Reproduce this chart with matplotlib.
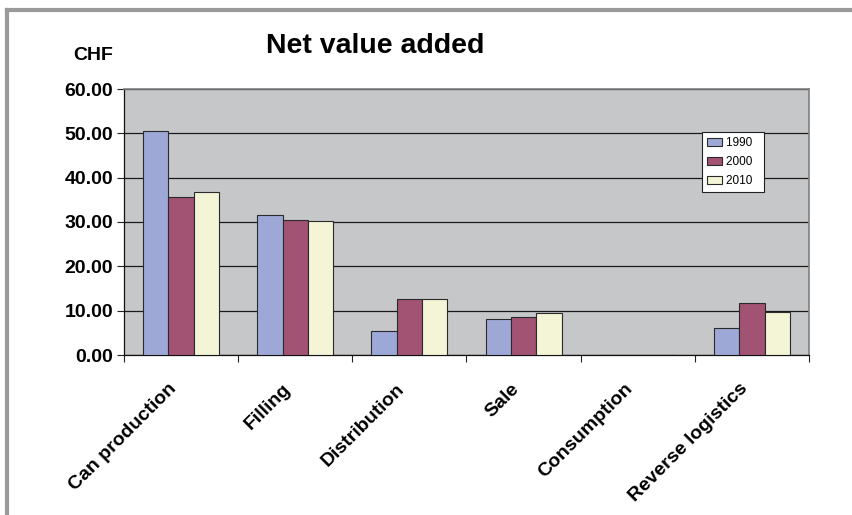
import matplotlib
matplotlib.use("Agg")
import matplotlib.pyplot as plt
import numpy as np
from matplotlib.lines import Line2D
from matplotlib.patches import Rectangle
from matplotlib.legend_handler import HandlerPatch

categories = ["Can production", "Filling", "Distribution", "Sale", "Consumption", "Reverse logistics"]
years = ["1990", "2000", "2010"]
v1990 = [50.6, 31.5, 5.5, 8.2, 0.0, 6.0]
v2000 = [35.6, 30.5, 12.6, 8.6, 0.0, 11.8]
v2010 = [36.7, 30.2, 12.6, 9.5, 0.0, 9.6]
yticks = [0, 10, 20, 30, 40, 50, 60]

colors = ["#9DA8D6", "#A25273", "#F4F4D6"]

plt.rcParams['font.family'] = ['Liberation Sans', 'DejaVu Sans']

fig = plt.figure(figsize=(8.52, 5.15), dpi=100)
fig.patch.set_facecolor("white")
ax = fig.add_axes([124/852, 1-355/515, (809-124)/852, (355-89)/515])
ax.set_facecolor("#C6C7C9")

n = len(categories)
x = np.arange(n)
bw = 0.222
for i, (vals, c, lab) in enumerate(zip([v1990, v2000, v2010], colors, years)):
    ax.bar(x + (i-1)*bw, vals, bw, color=c, edgecolor="#2a2a2a", linewidth=0.8, label=lab, zorder=3)

ax.set_xlim(-0.5, n-0.5)
ax.set_ylim(0, 60)
ax.set_yticks(yticks)
ax.set_yticklabels([f"{t:.2f}" for t in yticks], fontsize=14, fontweight="bold")
ax.yaxis.grid(True, color="#1a1a1a", linewidth=0.9, zorder=1)
ax.set_axisbelow(True)

ax.set_xticks(np.arange(n+1) - 0.5, minor=False)
ax.set_xticklabels([])
ax.tick_params(axis="x", length=5, width=0.8, color="#222")
ax.tick_params(axis="y", length=5, width=0.8, color="#222", pad=3)

for i, cat in enumerate(categories):
    ax.annotate(cat, xy=(i, 0), xycoords="data", xytext=(-9.5, -18), textcoords="offset points",
                rotation=45, rotation_mode="anchor", ha="right", va="top",
                fontsize=14, fontweight="bold", annotation_clip=False)

for s in ["left", "bottom"]:
    ax.spines[s].set_color("#111")
    ax.spines[s].set_linewidth(0.9)
for s in ["top", "right"]:
    ax.spines[s].set_color("#808080")
    ax.spines[s].set_linewidth(1.2)


def small_square(legend, orig_handle, xdescent, ydescent, width, height, fontsize):
    s = 0.52 * fontsize
    return Rectangle((-xdescent + width - s, -ydescent + (height - s) / 2), s, s)


leg = ax.legend(loc="upper left", bbox_to_anchor=((702-124)/685, 1-(132-89)/266), fontsize=8.5,
                frameon=True, fancybox=False, edgecolor="#222", framealpha=1,
                handlelength=1.25, handleheight=0.7, handletextpad=0.3, borderpad=0.45,
                labelspacing=0.58, borderaxespad=0,
                handler_map={Rectangle: HandlerPatch(patch_func=small_square)})
for t in leg.get_texts():
    t.set_text(t.get_text() + "  ")
leg.get_frame().set_linewidth(0.8)

fig.text(375/852, 1-46/515, "Net value added", ha="center", va="center", fontsize=20.5, fontweight="bold")
fig.text(93/852, 1-55/515, "CHF", ha="center", va="center", fontsize=14, fontweight="bold")

fig.add_artist(Line2D([7/852, 1], [1-10/515, 1-10/515], color="#9a9a9a", linewidth=3, transform=fig.transFigure))
fig.add_artist(Line2D([7/852, 7/852], [0, 1-10/515], color="#9a9a9a", linewidth=3, transform=fig.transFigure))

fig.savefig("out.png", dpi=100)
